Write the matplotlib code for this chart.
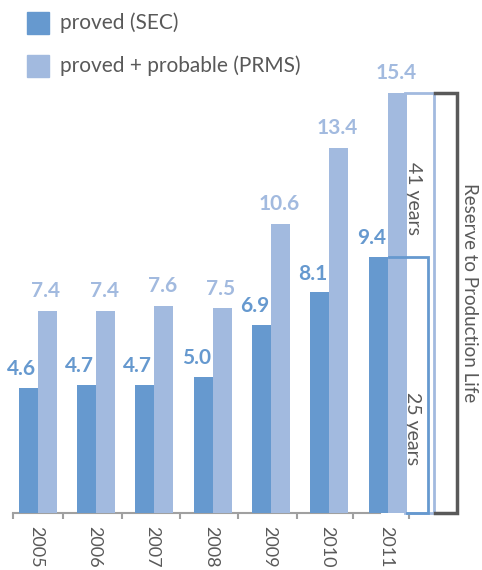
import numpy as np
import matplotlib
matplotlib.use('Agg')
import matplotlib.pyplot as plt
from matplotlib.patches import Rectangle

plt.rcParams['font.family'] = ['Lato', 'DejaVu Sans']

years = ['2005', '2006', '2007', '2008', '2009', '2010', '2011']
proved = [4.6, 4.7, 4.7, 5.0, 6.9, 8.1, 9.4]
probable = [7.4, 7.4, 7.6, 7.5, 10.6, 13.4, 15.4]
labels = ['proved (SEC)', 'proved + probable (PRMS)']
life_proved = '25 years'
life_probable = '41 years'
side_label = 'Reserve to Production Life'

dark = '#6699cf'
light = '#a2badf'
grey = '#595959'

fig = plt.figure(figsize=(4.82, 5.7), dpi=100)
ax = fig.add_axes([0, 0, 1, 1])
ax.set_xlim(-0.646, 7.617)
ax.set_ylim(-2.09, 18.81)

x = np.arange(len(years))
w = 0.326
ax.bar(x - w, proved, w, align='edge', color=dark, zorder=3)
ax.bar(x, probable, w, align='edge', color=light, zorder=3)

for i in range(len(years)):
    ax.annotate('%.1f' % proved[i], (x[i] - w / 2, proved[i]), xytext=(-5, 6),
                textcoords='offset points', ha='center', va='bottom',
                fontsize=15, fontweight='bold', color=dark)
    ax.annotate('%.1f' % probable[i], (x[i] + w / 2, probable[i]), xytext=(-1, 7),
                textcoords='offset points', ha='center', va='bottom',
                fontsize=15, fontweight='bold', color=light)

# reserve life boxes next to the last pair of bars
last = x[-1]
ax.add_patch(Rectangle((last + 0.29, 0), 0.5, probable[-1], fill=False,
                       edgecolor=light, lw=2, zorder=4))
ax.plot([last + 0.02, last + 0.69, last + 0.69, last + 0.33],
        [proved[-1], proved[-1], 0, 0], color=dark, lw=2, zorder=5,
        solid_joinstyle='miter')
ax.plot([last + 0.81, last + 1.19, last + 1.19, last + 0.81],
        [probable[-1], probable[-1], 0, 0], color=grey, lw=2.5, zorder=5,
        solid_joinstyle='miter')
ax.text(last + 0.45, probable[-1] * 0.75, life_probable, rotation=-90,
        ha='center', va='center', fontsize=14, color=grey)
ax.text(last + 0.43, proved[-1] * 0.33, life_proved, rotation=-90,
        ha='center', va='center', fontsize=14, color=grey)
ax.text(last + 1.41, probable[-1] * 0.525, side_label, rotation=-90,
        ha='center', va='center', fontsize=13.5, color=grey)

# axis
for s in ['top', 'right', 'left']:
    ax.spines[s].set_visible(False)
ax.spines['bottom'].set_position(('data', 0))
ax.spines['bottom'].set_bounds(-0.42, 5.86)
ax.spines['bottom'].set_color('#a0a0a0')
ax.spines['bottom'].set_linewidth(1.5)
ax.set_yticks([])
ax.set_xticks(x - 0.03)
ax.set_xticklabels(years, rotation=-90, fontsize=13, color=grey)
ax.tick_params(axis='x', which='major', length=0, pad=9)
ax.set_xticks([-0.42, 0.43, 1.45, 2.44, 3.43, 4.45, 5.41, 6.37], minor=True)
ax.tick_params(axis='x', which='minor', length=4, width=1.5, color='#a0a0a0')

# legend
fig.add_artist(Rectangle((27 / 482, 1 - 34 / 570), 22 / 482, 22 / 570,
                         transform=fig.transFigure, color=dark))
fig.add_artist(Rectangle((27 / 482, 1 - 77 / 570), 22 / 482, 22 / 570,
                         transform=fig.transFigure, color=light))
fig.text(60 / 482, 1 - 23 / 570, labels[0], ha='left', va='center',
         fontsize=15, color=grey)
fig.text(60 / 482, 1 - 66 / 570, labels[1], ha='left', va='center',
         fontsize=15, color=grey)

plt.savefig('out.png', dpi=100)
